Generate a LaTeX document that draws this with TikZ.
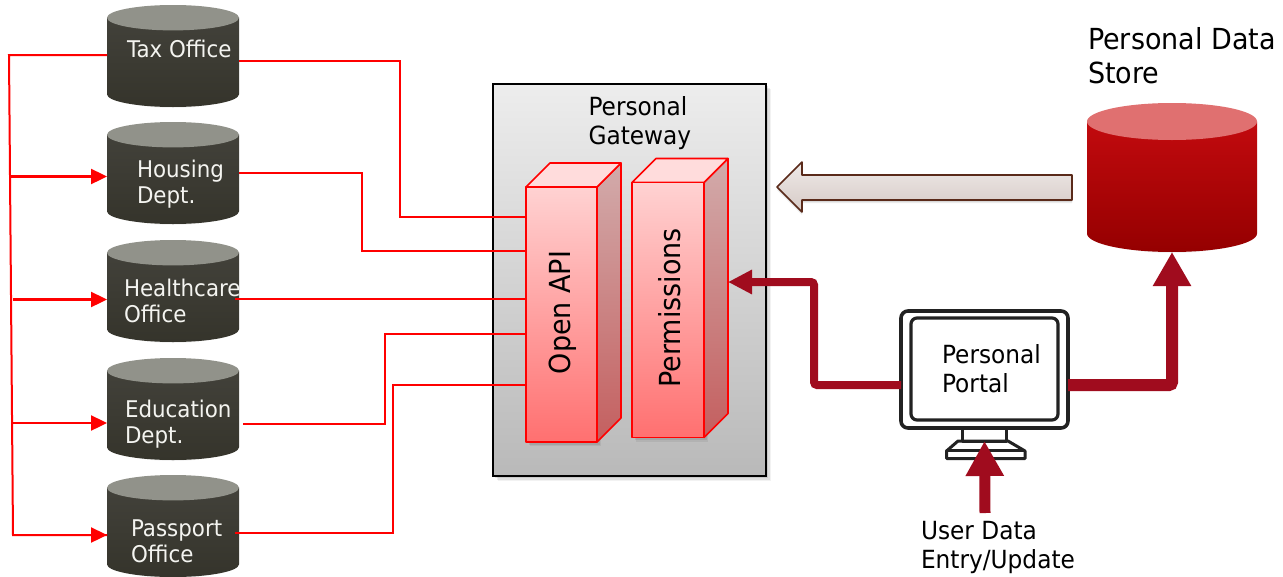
\documentclass[tikz,border=0pt]{standalone}
\usepackage{fontspec}
\setmainfont[FakeStretch=0.93]{DejaVu Sans}
\usetikzlibrary{arrows.meta,calc}
\definecolor{busred}{HTML}{FF0000}
\definecolor{wine}{HTML}{A00C1E}
\definecolor{arrowedge}{HTML}{5A2A1A}
\definecolor{drumtop}{HTML}{91928A}
\definecolor{drumhi}{HTML}{42413A}
\definecolor{drumlo}{HTML}{35342B}
\definecolor{storetop}{HTML}{E07070}
\definecolor{storehi}{HTML}{C20A0E}
\definecolor{storelo}{HTML}{950000}
\definecolor{frontA}{HTML}{FFD2D2}
\definecolor{frontB}{HTML}{FF7070}
\definecolor{sideA}{HTML}{D2ABAB}
\definecolor{sideB}{HTML}{C45F5F}
\definecolor{capfill}{HTML}{FFDCDC}
\definecolor{gateA}{HTML}{EDEDED}
\definecolor{gateB}{HTML}{B9B9B9}
\definecolor{monline}{HTML}{222222}
\definecolor{softwhite}{HTML}{F4F4F0}
\tikzset{
  x=1pt,y=-1pt,
  every node/.style={outer sep=0pt},
  small/.style={font=\fontsize{23}{26}\selectfont,text=softwhite,align=left,inner sep=0pt,anchor=base west},
  mid/.style={font=\fontsize{25}{29}\selectfont,text=black,align=left,inner sep=0pt,anchor=base west},
  big/.style={font=\fontsize{29}{34}\selectfont,text=black,align=left,inner sep=0pt,anchor=base west},
  upright/.style={font=\fontsize{29}{34}\selectfont,text=black,inner sep=0pt,anchor=base,rotate=90},
  bus/.style={draw=busred,line width=2pt},
  busarrow/.style={draw=busred,line width=2.4pt,-{Triangle[length=16pt,width=15pt]}},
  link/.style={draw=busred,line width=1.6pt},
  thickarrow/.style={draw=wine,rounded corners=3pt,line width=#1},
  face/.style={draw=busred,line width=1.6pt,line join=round},
  mon/.style={draw=monline,line join=round},
}
% name, left, right, top, bottom, ry, end colour, side top, side bottom
\newcommand{\drum}[9]{%
  \foreach \o/\a in {6/.05,4/.07,2/.1}{
    \fill[black,opacity=\a] (#2,#5-#6-5) arc[start angle=180,end angle=0,x radius={(#3-#2)/2},y radius={#6+\o}] -- cycle;}
  \path[top color=#8,bottom color=#9]
     (#2,#4+#6) -- (#2,#5-#6) arc[start angle=180,end angle=0,x radius={(#3-#2)/2},y radius=#6] -- (#3,#4+#6) -- cycle;
  \fill[#7] ({(#2+#3)/2},#4+#6) ellipse[x radius={(#3-#2)/2},y radius=#6];
  \node[inner sep=0pt,minimum width={(#3-#2)*1pt},minimum height={(#5-#4)*1pt}] (#1) at ({(#2+#3)/2},{(#4+#5)/2}) {};
}
% name, left, right, top, bottom, depth
\newcommand{\pillar}[6]{%
  \foreach \o/\a in {4/.06,2.5/.08}{\fill[black,opacity=\a] (#2+\o,#4+\o) rectangle (#3+\o,#5+\o);}
  \path[face,top color=sideA,bottom color=sideB]
     (#3,#4) -- (#3+#6,#4-#6) -- (#3+#6,#5-#6) -- (#3,#5) -- cycle;
  \path[face,fill=capfill]
     (#2,#4) -- (#2+#6,#4-#6) -- (#3+#6,#4-#6) -- (#3,#4) -- cycle;
  \path[face,top color=frontA,bottom color=frontB]
     (#2,#4) rectangle (#3,#5);
  \node[inner sep=0pt,minimum width={(#3+#6-#2)*1pt},minimum height={(#5-#4+#6)*1pt}] (#1) at ({(#2+#3+#6)/2},{(#4+#5-#6)/2}) {};
}
\begin{document}
\begin{tikzpicture}
\useasboundingbox (0,0) rectangle (1283,576);
\fill[white] (0,0) rectangle (1283,576);

% gateway
\foreach \o/\a in {5/.05,3.5/.07,2/.1}{\fill[black,opacity=\a] (493+\o,84+\o) rectangle (766+\o,476+\o);}
\node[inner sep=0pt,minimum width=273pt,minimum height=392pt,draw=black,line width=2.4pt,top color=gateA,bottom color=gateB] (gateway) at (629.5,280) {};
\node[mid] (gatewaylabel) at (588.5,144.5) {Personal\\Gateway};

% pillars
\pillar{api}{526}{597}{187}{442}{24}
\pillar{perm}{632}{704}{182.5}{437.5}{24}
\node[upright] (apilabel) at (570,312.5) {Open API};
\node[upright] (permlabel) at (680,308) {Permissions};

% drums
\drum{tax}{107}{239}{5}{107}{12.7}{drumtop}{drumhi}{drumlo}
\drum{housing}{107}{239}{122}{224}{12.7}{drumtop}{drumhi}{drumlo}
\drum{health}{107}{239}{240}{342}{12.7}{drumtop}{drumhi}{drumlo}
\drum{education}{107}{239}{358}{460}{12.7}{drumtop}{drumhi}{drumlo}
\drum{passport}{107}{239}{475}{577}{12.7}{drumtop}{drumhi}{drumlo}
\node[small] (taxlabel) at (127,57) {Tax Office};
\node[small] (housinglabel) at (137,203) {Housing\\Dept.};
\node[small] (healthlabel) at (124,322) {Healthcare\\Office};
\node[small] (educationlabel) at (125,443) {Education\\Dept.};
\node[small] (passportlabel) at (131,562) {Passport\\Office};

% bus on the left
\coordinate (busTop) at (9,55);
\coordinate (busBottom) at (13,535);
\draw[bus] (tax.west |- busTop) -- (busTop) -- (busBottom) -- (passport.west |- busBottom);
\draw[busarrow] (10,176.5) -- (housing.west |- 0,176.5);
\draw[busarrow] (13,299.5) -- (health.west |- 0,299.5);
\draw[busarrow] (12,423) -- (education.west |- 0,423);
\draw[busarrow] (13,535) -- (passport.west |- 0,535);

% links to Open API
\draw[link] (tax.east |- 0,61) -- (400,61) -- (400,217) -- (api.west |- 0,217);
\draw[link] (housing.east |- 0,173) -- (362,173) -- (362,251) -- (api.west |- 0,251);
\draw[link] ([xshift=-4pt]health.east |- 0,299) -- (api.west |- 0,299);
\draw[link] ([xshift=4pt]education.east |- 0,424) -- (385,424) -- (385,334) -- (api.west |- 0,334);
\draw[link] ([xshift=-4pt]passport.east |- 0,533) -- (393,533) -- (393,385) -- (api.west |- 0,385);

% store
\drum{store}{1087}{1257}{103}{252}{18.5}{storetop}{storehi}{storelo}
\node[big] (storelabel) at (1088,83) {Personal Data\\Store};

% arrow from store to gateway
\foreach \o/\a in {3/.08,1.5/.12}{\fill[black,opacity=\a] (1072,175+\o) -- (1072,200+\o) -- (802,200+\o) -- (802,212+\o) -- (777,187+\o) -- (802,162+\o) -- (802,175+\o) -- cycle;}
\path[draw=arrowedge,line width=1.6pt,line join=round,top color=white!90!arrowedge,bottom color=white!75!arrowedge]
  (1072,175) -- (1072,200) -- (802,200) -- (802,212) -- (777,187) -- (802,162) -- (802,175) -- cycle;

% monitor
\node[mon,inner sep=0pt,line width=3.6pt,rounded corners=7pt,fill=white,minimum width=167pt,minimum height=117pt] (monitor) at (984.5,369.5) {};
\node[mon,inner sep=0pt,line width=3.2pt,rounded corners=6pt,minimum width=147pt,minimum height=102pt] (screen) at (984.5,369) {};
\node[mon,inner sep=0pt,line width=3pt,minimum width=44pt,minimum height=13pt,anchor=north] (stand) at (monitor.south) {};
\draw[mon,line width=3pt] (958,441) -- (1008,441) -- (1025,451) -- (1025,458.5) -- (946.5,458.5) -- (946.5,451) -- cycle;
\draw[mon,line width=2.4pt] (946.5,450.5) -- (1025,450.5);
\node[mid] (portallabel) at (942,392) {Personal\\Portal};

% thick arrows
\draw[thickarrow=8pt,-{Triangle[length=24pt,width=23pt]}] (monitor.west |- 0,385) -- (814,385) -- (814,282) -- (perm.east |- 0,282);
\draw[thickarrow=12pt,-{Triangle[length=34pt,width=36pt]}] (monitor.east |- 0,385) -- (store.south |- 0,385) -- (store.south);
\coordinate (userEnd) at (985,513);
\draw[thickarrow=11pt,-{Triangle[length=35pt,width=36pt]}] (userEnd) -- (stand.south);
\node[mid] (userlabel) at (921,568) {User Data\\Entry/Update};
\end{tikzpicture}
\end{document}
